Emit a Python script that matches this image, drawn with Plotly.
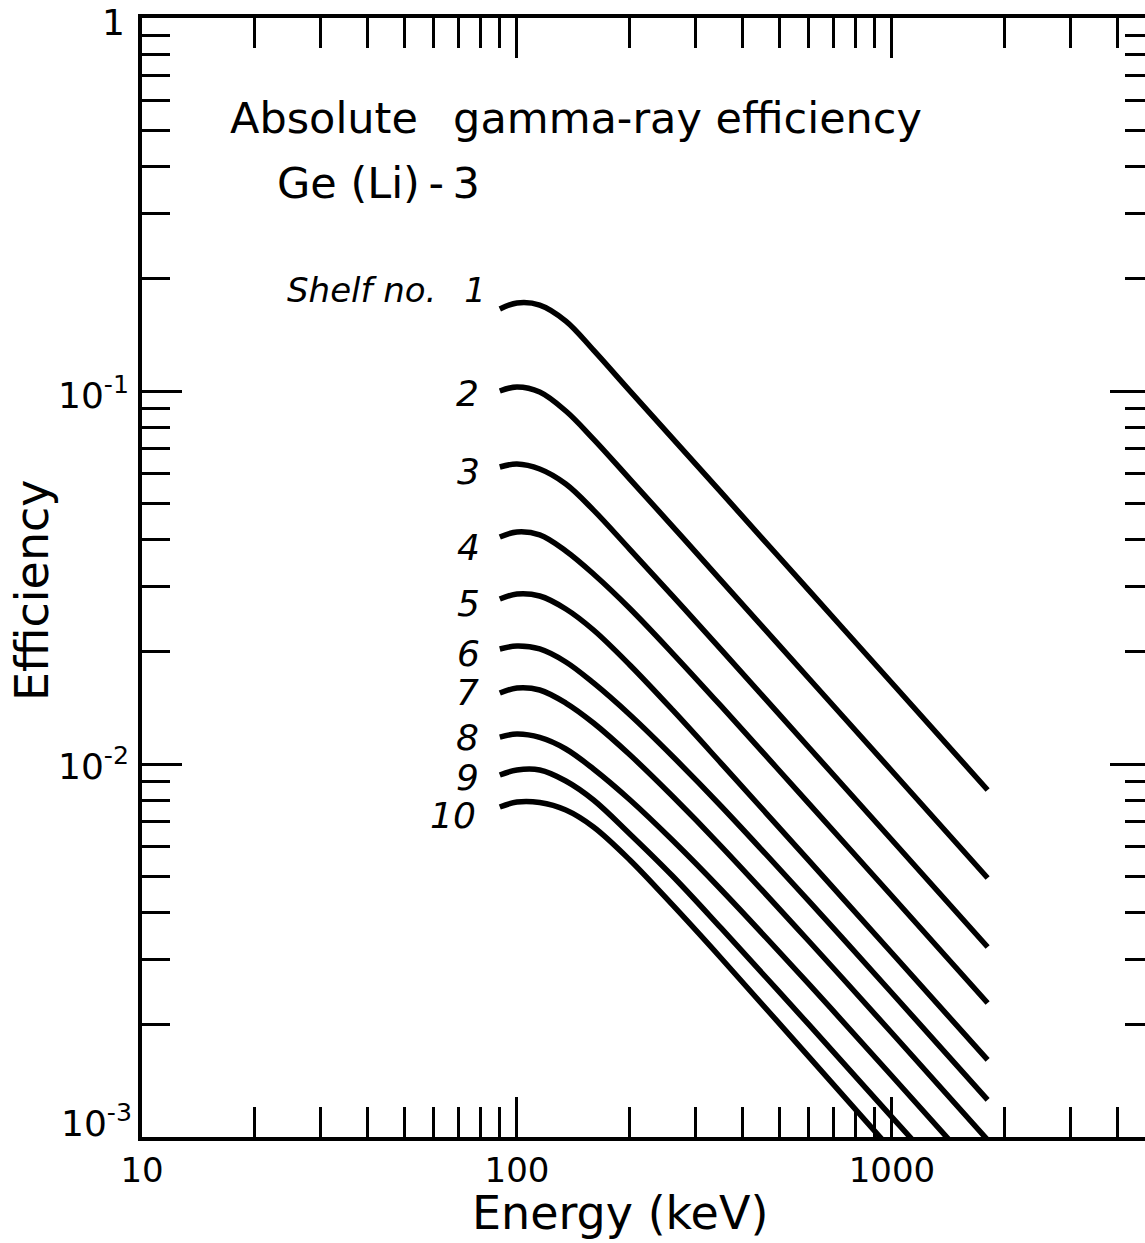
import plotly.graph_objects as go

# ---------------- data ----------------
energy_keV = [90, 100, 115, 135, 160, 200, 260, 350, 600, 1000, 1800]
energy_shelf_8 = [90, 100, 115, 135, 160, 200, 260, 350, 600, 1000, 1500]
energy_shelf_9 = [90, 100, 115, 135, 160, 200, 260, 350, 600, 1000, 1200]
energy_shelf_10 = [90, 100, 115, 135, 160, 200, 260, 350, 600, 1000]

shelf_1 = [0.1659, 0.1722, 0.1700, 0.1540, 0.1287, 0.1001, 0.07467, 0.05354, 0.02924, 0.01649, 0.008518]
shelf_2 = [0.1000, 0.1025, 0.09938, 0.08838, 0.07431, 0.05805, 0.04338, 0.03108, 0.01698, 0.009577, 0.004947]
shelf_3 = [0.06255, 0.06372, 0.06178, 0.05632, 0.04794, 0.03764, 0.02825, 0.02030, 0.01109, 0.006255, 0.003232]
shelf_4 = [0.04061, 0.04188, 0.04112, 0.03725, 0.03232, 0.02612, 0.01981, 0.01431, 0.007843, 0.004427, 0.002287]
shelf_5 = [0.02769, 0.02856, 0.02821, 0.02604, 0.02287, 0.01843, 0.01396, 0.01006, 0.005515, 0.003114, 0.001609]
shelf_6 = [0.02034, 0.02072, 0.02034, 0.01877, 0.01649, 0.01355, 0.010487, 0.007716, 0.004293, 0.002433, 0.001257]
shelf_7 = [0.01550, 0.01599, 0.01579, 0.01457, 0.01288, 0.010584, 0.008193, 0.006027, 0.003353, 0.001900, 0.000982]
shelf_8 = [0.01181, 0.01203, 0.01178, 0.01097, 0.009696, 0.008018, 0.006243, 0.004608, 0.002572, 0.001457, 0.000925]
shelf_9 = [0.009344, 0.009636, 0.009636, 0.009004, 0.008008, 0.006493, 0.005008, 0.003634, 0.002003, 0.001131, 0.000923]
shelf_10 = [0.007669, 0.007909, 0.007885, 0.007526, 0.006778, 0.005529, 0.004188, 0.003019, 0.001642, 0.000920]

shelf_labels = ["Shelf no.\u2002 1", "2", "3", "4", "5", "6", "7", "8", "9", "10"]

x_tick_vals = [10, 100, 1000]
x_tick_text = ["10", "100", "1000"]
x_minor_vals = [20, 30, 40, 50, 60, 70, 80, 90, 200, 300, 400, 500, 600, 700, 800, 900, 2000, 3000, 4000]
y_tick_vals = [0.001, 0.01, 0.1, 1]
y_tick_text = ["10<sup>-3</sup>", "10<sup>-2</sup>", "10<sup>-1</sup>", "1"]
y_minor_vals = [m * d for d in (0.001, 0.01, 0.1) for m in range(2, 10)]

# ---------------- layout helpers ----------------
W, H = 1145, 1243
L, R, T, B = 142, 1145, 18, 1137
FONT = "DejaVu Sans"


def pxx(x):
    return (x - L) / (R - L)


def pxy(y):
    return (B - y) / (B - T)


series = [
    (energy_keV, shelf_1), (energy_keV, shelf_2), (energy_keV, shelf_3),
    (energy_keV, shelf_4), (energy_keV, shelf_5), (energy_keV, shelf_6),
    (energy_keV, shelf_7), (energy_shelf_8, shelf_8), (energy_shelf_9, shelf_9),
    (energy_shelf_10, shelf_10),
]

fig = go.Figure()
for i, (ex, ey) in enumerate(series):
    fig.add_trace(go.Scatter(
        x=ex, y=ey, mode="lines", name=shelf_labels[i],
        line=dict(color="black", width=5.5, shape="spline", smoothing=1.0),
        showlegend=False, hoverinfo="skip",
    ))

# invisible trace to host the right-hand tick axis
fig.add_trace(go.Scatter(x=[100], y=[0.01], yaxis="y2", mode="markers",
                         marker=dict(opacity=0), showlegend=False, hoverinfo="skip"))

# curve labels (pixel positions of the label right edges / centres)
label_pos = [(488, 290), (481, 393), (482, 471), (482, 548), (482, 603),
             (482, 653), (481, 692), (481, 737), (481, 778), (478, 815)]
annotations = []
for txt, (lx, ly) in zip(shelf_labels, label_pos):
    annotations.append(dict(
        x=pxx(lx), y=pxy(ly), xref="paper", yref="paper", text=txt,
        showarrow=False, xanchor="right", yanchor="middle",
        font=dict(family=FONT, size=36 if txt != shelf_labels[0] else 34,
                  color="black", style="italic"),
    ))

# y tick labels (the bottom one sits a little above its tick, as in the original)
y_label_pos = [(134, 1121), (131, 764), (131, 393), (127, 22)]
for txt, (lx, ly) in zip(y_tick_text, y_label_pos):
    annotations.append(dict(
        x=pxx(lx), y=pxy(ly), xref="paper", yref="paper", text=txt,
        showarrow=False, xanchor="right", yanchor="middle",
        font=dict(family=FONT, size=36, color="black"),
    ))

annotations += [
    dict(x=pxx(228), y=pxy(118), xref="paper", yref="paper",
         text="Absolute\u2002 gamma-ray efficiency", showarrow=False,
         xanchor="left", yanchor="middle",
         font=dict(family=FONT, size=43, color="black")),
    dict(x=pxx(275), y=pxy(183), xref="paper", yref="paper",
         text="Ge (Li)\u2009-\u20093", showarrow=False, xanchor="left", yanchor="middle",
         font=dict(family=FONT, size=43, color="black")),
    dict(x=pxx(32), y=pxy(590), xref="paper", yref="paper",
         text="Efficiency", showarrow=False, textangle=-90,
         xanchor="center", yanchor="middle",
         font=dict(family=FONT, size=46, color="black")),
    dict(x=pxx(620), y=pxy(1213), xref="paper", yref="paper",
         text="Energy (keV)", showarrow=False, xanchor="center", yanchor="middle",
         font=dict(family=FONT, size=46, color="black")),
]

fig.update_layout(
    width=W, height=H,
    margin=dict(l=L, r=W - R, t=T, b=H - B, pad=0),
    paper_bgcolor="white", plot_bgcolor="white",
    annotations=annotations,
    xaxis=dict(
        type="log", range=[1, 3.675],
        showline=True, linecolor="black", linewidth=4, mirror="ticks",
        showgrid=False, zeroline=False,
        ticks="inside", ticklen=40, tickwidth=3, tickcolor="black",
        tickvals=x_tick_vals, ticktext=x_tick_text,
        tickfont=dict(family=FONT, size=34, color="black"),
        ticklabelstandoff=0,
        minor=dict(tickvals=x_minor_vals, ticks="inside", ticklen=30,
                   tickwidth=3, tickcolor="black", showgrid=False),
    ),
    yaxis=dict(
        type="log", range=[-3, 0],
        showline=True, linecolor="black", linewidth=4, mirror=False,
        showgrid=False, zeroline=False, showticklabels=False,
        ticks="inside", ticklen=40, tickwidth=3, tickcolor="black",
        tickvals=y_tick_vals,
        minor=dict(tickvals=y_minor_vals, ticks="inside", ticklen=28,
                   tickwidth=3, tickcolor="black", showgrid=False),
    ),
    yaxis2=dict(
        type="log", range=[-3, 0], overlaying="y", side="right", anchor="x",
        showline=False, showgrid=False, zeroline=False, showticklabels=False,
        ticks="inside", ticklen=35, tickwidth=3, tickcolor="black",
        tickvals=y_tick_vals,
        minor=dict(tickvals=y_minor_vals, ticks="inside", ticklen=20,
                   tickwidth=3, tickcolor="black", showgrid=False),
    ),
)

fig.write_html("out.html", config={"displayModeBar": False})
